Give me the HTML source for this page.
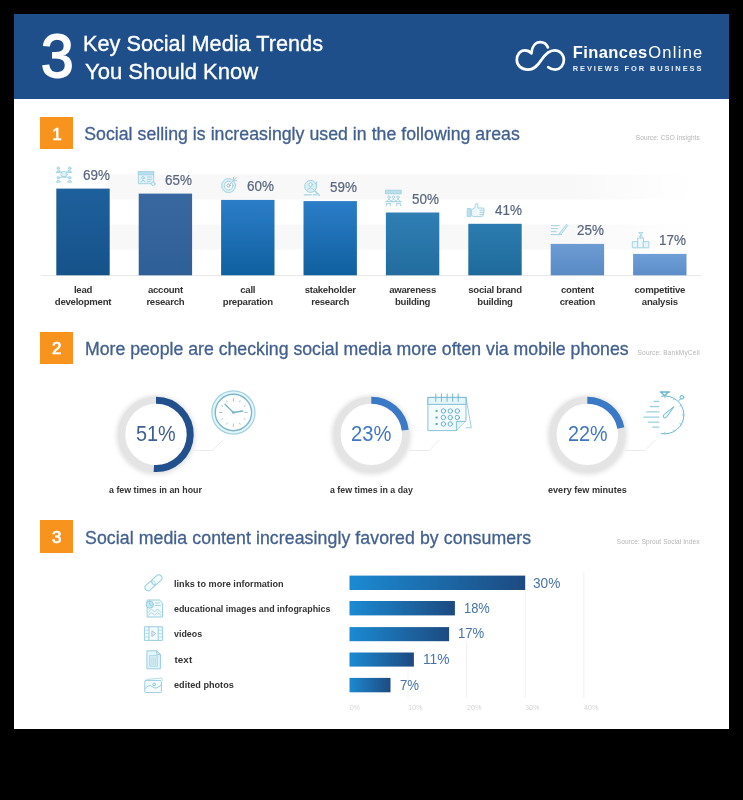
<!DOCTYPE html>
<html><head><meta charset="utf-8"><title>3 Key Social Media Trends</title>
<style>
html,body{margin:0;padding:0;background:#000;}
body{width:743px;height:800px;position:relative;overflow:hidden;font-family:"Liberation Sans",sans-serif;}
#page{position:absolute;left:14px;top:14px;width:715px;height:714.7px;background:#fff;}
#hdr{position:absolute;left:14px;top:14px;width:715px;height:84.6px;background:#1f4f8b;}
.ob{position:absolute;left:40.4px;width:32.8px;height:32px;background:#f8941d;}
.t{position:absolute;white-space:nowrap;line-height:1;transform-origin:0 50%;font-family:"Liberation Sans",sans-serif;}
#c{position:absolute;left:0;top:0;width:743px;height:800px;filter:blur(0.6px);}
</style></head><body>
<div id="page"></div>
<div id="hdr"></div>
<div class="ob" style="top:116.8px"></div>
<div class="ob" style="top:331.5px;height:32.4px"></div>
<div class="ob" style="top:520.2px;height:32.5px"></div>
<div id="c">
<svg width="743" height="800" viewBox="0 0 743 800" style="position:absolute;left:0;top:0">
<defs>
<linearGradient id="b0" x1="0" y1="0" x2="0" y2="1"><stop offset="0" stop-color="#1e609c"/><stop offset="1" stop-color="#16528a"/></linearGradient>
<linearGradient id="b1" x1="0" y1="0" x2="0" y2="1"><stop offset="0" stop-color="#38689f"/><stop offset="1" stop-color="#2f5f97"/></linearGradient>
<linearGradient id="b2" x1="0" y1="0" x2="0" y2="1"><stop offset="0" stop-color="#2b7dc8"/><stop offset="1" stop-color="#0f609f"/></linearGradient>
<linearGradient id="b3" x1="0" y1="0" x2="0" y2="1"><stop offset="0" stop-color="#2b7dc8"/><stop offset="1" stop-color="#0f609f"/></linearGradient>
<linearGradient id="b4" x1="0" y1="0" x2="0" y2="1"><stop offset="0" stop-color="#2f7fb4"/><stop offset="1" stop-color="#226c9e"/></linearGradient>
<linearGradient id="b5" x1="0" y1="0" x2="0" y2="1"><stop offset="0" stop-color="#2c7cb1"/><stop offset="1" stop-color="#1f6a9b"/></linearGradient>
<linearGradient id="b6" x1="0" y1="0" x2="0" y2="1"><stop offset="0" stop-color="#6c9cd2"/><stop offset="1" stop-color="#5a8ac4"/></linearGradient>
<linearGradient id="b7" x1="0" y1="0" x2="0" y2="1"><stop offset="0" stop-color="#6f9fd6"/><stop offset="1" stop-color="#5d8dc8"/></linearGradient>
<linearGradient id="hb" x1="0" y1="0" x2="1" y2="0"><stop offset="0" stop-color="#1b8ad2"/><stop offset="1" stop-color="#1d4a80"/></linearGradient>
<linearGradient id="band" x1="0" y1="0" x2="1" y2="0"><stop offset="0" stop-color="#ffffff"/><stop offset="0.02" stop-color="#f8f8f8"/><stop offset="0.78" stop-color="#f8f8f8"/><stop offset="1" stop-color="#ffffff"/></linearGradient>
<filter id="ib" x="-20%" y="-20%" width="140%" height="140%"><feGaussianBlur stdDeviation="0.45"/></filter>
<filter id="soft" x="-20%" y="-20%" width="140%" height="140%"><feGaussianBlur stdDeviation="2.2"/></filter>
</defs>
<rect x="100" y="174.5" width="595" height="25" fill="url(#band)"/>
<rect x="100" y="224.5" width="595" height="25" fill="url(#band)"/>
<rect x="41" y="275.0" width="660" height="1" fill="#e8e8e8"/>
<rect x="56.3" y="188.6" width="53.4" height="86.7" fill="url(#b0)"/>
<rect x="138.7" y="193.6" width="53.4" height="81.7" fill="url(#b1)"/>
<rect x="221.1" y="199.9" width="53.4" height="75.4" fill="url(#b2)"/>
<rect x="303.5" y="201.1" width="53.4" height="74.2" fill="url(#b3)"/>
<rect x="385.9" y="212.5" width="53.4" height="62.8" fill="url(#b4)"/>
<rect x="468.3" y="223.8" width="53.4" height="51.5" fill="url(#b5)"/>
<rect x="550.7" y="243.9" width="53.4" height="31.4" fill="url(#b6)"/>
<rect x="633.1" y="253.9" width="53.4" height="21.4" fill="url(#b7)"/>
<circle cx="156" cy="435.2" r="35.400000000000006" fill="none" stroke="#cfcfcf" stroke-width="8.5" opacity="0.6" filter="url(#soft)"/>
<circle cx="156" cy="434.4" r="34.2" fill="#fff" stroke="#e4e4e4" stroke-width="7"/>
<path d="M156 400.2 A34.2 34.2 0 1 1 153.85 468.53" fill="none" stroke="#21508d" stroke-width="7"/>
<circle cx="371.3" cy="435.2" r="35.400000000000006" fill="none" stroke="#cfcfcf" stroke-width="8.5" opacity="0.6" filter="url(#soft)"/>
<circle cx="371.3" cy="434.4" r="34.2" fill="#fff" stroke="#e4e4e4" stroke-width="7"/>
<path d="M371.3 400.2 A34.2 34.2 0 0 1 405.23 430.11" fill="none" stroke="#3a79c5" stroke-width="7"/>
<circle cx="587.3" cy="435.2" r="35.400000000000006" fill="none" stroke="#cfcfcf" stroke-width="8.5" opacity="0.6" filter="url(#soft)"/>
<circle cx="587.3" cy="434.4" r="34.2" fill="#fff" stroke="#e4e4e4" stroke-width="7"/>
<path d="M587.3 400.2 A34.2 34.2 0 0 1 620.89 427.99" fill="none" stroke="#3a79c5" stroke-width="7"/>
<path d="M193.6 450.5 H212.5 L223.2 439.8" fill="none" stroke="#ebebeb" stroke-width="1"/>
<path d="M409 450.5 H429.2 L439.4 439.8" fill="none" stroke="#ebebeb" stroke-width="1"/>
<path d="M625 450.5 H645 L655.5 439.8" fill="none" stroke="#ebebeb" stroke-width="1"/>
<rect x="407.6" y="667" width="1" height="31" fill="#f5f5f5"/>
<rect x="466.1" y="641.5" width="1" height="56.5" fill="#f1f1f1"/>
<rect x="524.7" y="590.5" width="1" height="107.5" fill="#f0f0f0"/>
<rect x="583.3" y="572" width="1" height="126" fill="#f1f1f1"/>
<rect x="349.5" y="575.6" width="175.7" height="14.4" fill="url(#hb)"/>
<rect x="349.5" y="601" width="105.4" height="14.4" fill="url(#hb)"/>
<rect x="349.5" y="627.1" width="99.6" height="14.1" fill="url(#hb)"/>
<rect x="349.5" y="652.5" width="64.4" height="14.1" fill="url(#hb)"/>
<rect x="349.5" y="677.9" width="41.0" height="14.4" fill="url(#hb)"/>
<!-- cloud logo -->
<path d="M547.9 47.4 C546.6 44.3 543.8 42.2 540.3 42.2 C535.6 42.2 531.9 46.2 531.4 53.3 C529.8 51.4 527.4 50.3 524.8 50.3 C520.2 50.3 516.8 54.7 516.8 60.1 C516.8 65.5 521.5 69.6 528 69.6 C534.5 69.6 538 65 541.3 60 C544.6 55 548.5 50.3 554.5 50.3 C559.8 50.3 563.9 54.7 563.9 60.1 C563.9 65.4 559.8 69.6 555.4 69.6 C552.6 69.6 550.2 68.8 548.3 67.2" fill="none" stroke="#fff" stroke-width="2.75" stroke-linecap="round" stroke-linejoin="round"/>
<g fill="none" stroke="#8fcadd" stroke-width="1" stroke-linecap="round" stroke-linejoin="round" opacity="0.8" filter="url(#ib)">
<!-- icon1: network of people -->
<g>
<circle cx="64" cy="174.5" r="3.2" fill="#d6eef6"/>
<path d="M62 176.2 q2 1.6 4 0 M61.5 172 L59.5 170.5 M66.5 172 L68.5 170.5 M61.5 177 L59.5 178.2 M66.5 177 L68.5 178.2"/>
<circle cx="58.3" cy="168.3" r="1.3" fill="#b9dfea"/><path d="M56.3 172.2 q2 -3.2 4 0 z" fill="#b9dfea"/>
<circle cx="69.7" cy="168.3" r="1.3" fill="#b9dfea"/><path d="M67.7 172.2 q2 -3.2 4 0 z" fill="#b9dfea"/>
<circle cx="58.3" cy="177.8" r="1.3" fill="#b9dfea"/><path d="M56.3 181.8 q2 -3.2 4 0 z" fill="#b9dfea"/>
<circle cx="69.7" cy="177.8" r="1.3" fill="#b9dfea"/><path d="M67.7 181.8 q2 -3.2 4 0 z" fill="#b9dfea"/>
</g>
<!-- icon2: browser profile -->
<g>
<rect x="138.7" y="171.7" width="15" height="12" fill="#dcf0f7"/>
<rect x="138.7" y="171.7" width="15" height="3" fill="#a9d9ea"/>
<circle cx="143" cy="177.8" r="1.3"/><path d="M140.8 182 q2.2 -3.6 4.4 0"/>
<path d="M147.5 177 h4 M147.5 179.3 h4 M147.5 181.6 h2.5"/>
<circle cx="153.3" cy="183.8" r="1.9" fill="#e0f3f9"/>
</g>
<!-- icon3: target -->
<g>
<circle cx="228.6" cy="185.6" r="7" fill="#d5eef6"/>
<circle cx="228.6" cy="185.6" r="4.3" fill="#fff"/>
<circle cx="228.6" cy="185.6" r="1.6" stroke="#7f9fb8"/>
<path d="M229.5 184.7 L236.3 177.8 M233.5 177.6 v3 h3"/>
</g>
<!-- icon4: magnifier person -->
<g>
<circle cx="310.6" cy="186.4" r="6" fill="#d2edf6"/>
<circle cx="310.6" cy="184.6" r="1.7" fill="#fff"/><path d="M307.4 190 q3.2 -4.6 6.4 0"/>
<path d="M315 191 L319.2 195.3" stroke-width="1.6"/>
<path d="M316.5 182 v5" />
<path d="M304.3 194.8 h7 M313.5 194.8 h3" stroke-width="1.3"/>
</g>
<!-- icon5: meeting -->
<g>
<rect x="385.8" y="190.2" width="15.4" height="3.6" fill="#a9d9ea"/>
<circle cx="389" cy="197.2" r="1.2"/><circle cx="393.5" cy="197.2" r="1.2"/><circle cx="398" cy="197.2" r="1.2"/>
<path d="M386.8 201 q2.2 -3.4 4.4 0 M391.3 201 q2.2 -3.4 4.4 0 M395.8 201 q2.2 -3.4 4.4 0"/>
<path d="M385.8 201.6 h15.4" stroke-width="1.3"/>
<path d="M386.6 203.4 v2.4 M390.3 203.4 v2.4 M396.7 203.4 v2.4 M400.4 203.4 v2.4 M386.6 203.6 h3.7 M396.7 203.6 h3.7"/>
</g>
<!-- icon6: thumbs up -->
<g>
<rect x="467.6" y="208.6" width="3.4" height="8" fill="#a9d9ea"/>
<path d="M471.8 209.5 L474.5 208 L476 203.6 q1.8 -0.6 2 1.6 L477.6 208 H483 q1.4 0.2 1.2 1.6 L483.4 215 q-0.4 1.6 -2 1.6 H474 L471.8 215.6 Z" fill="#eaf7fb"/>
<path d="M480 210.2 h4 M480 212.4 h3.8 M480 214.6 h3.4"/>
</g>
<!-- icon7: write -->
<g>
<path d="M551.2 225.6 h8 M551.2 228.6 h6.5 M551.2 231.6 h5 M551.2 234.6 h10.5"/>
<path d="M566.4 224.6 L560 232.6 L558.8 235 L561.4 233.8 L567.6 225.8 Z" fill="#d5eef6"/>
</g>
<!-- icon8: podium -->
<g>
<rect x="632.7" y="241.6" width="5.4" height="6.2" fill="#e3f4fa"/>
<rect x="638.1" y="238" width="5.4" height="9.8" fill="#eef9fc"/>
<rect x="643.5" y="241.6" width="5.4" height="6.2" fill="#e3f4fa"/>
<path d="M639 232.6 h3.6 M639.2 232.8 L642.4 236.8 M642.4 232.8 L639.2 236.8 M640.8 236 v2"/>
</g>
</g>
<!-- clock -->
<g fill="none" stroke-linecap="round">
<circle cx="233.4" cy="412.5" r="21.6" fill="#e2f6fb" stroke="#a2d2df" stroke-width="1.2"/>
<circle cx="233.4" cy="412.5" r="18.2" fill="#fff" stroke="#80b6c8" stroke-width="1.4"/>
<g stroke="#9cc5d3" stroke-width="1">
<path d="M233.4 398.6 v2.4 M233.4 424 v2.4 M219.5 412.5 h2.4 M244.9 412.5 h2.4"/>
<path d="M240.1 400.9 l-0.5 0.9 M245 405.8 l-0.9 0.5 M245 419.2 l-0.9 -0.5 M240.1 424.1 l-0.5 -0.9 M226.7 424.1 l0.5 -0.9 M221.8 419.2 l0.9 -0.5 M221.8 405.8 l0.9 0.5 M226.7 400.9 l0.5 0.9"/>
</g>
<path d="M233.4 412.5 L225 404.2" stroke="#76b3c9" stroke-width="1.2"/>
<path d="M233.4 412.5 L242.6 411" stroke="#76b3c9" stroke-width="1.4"/>
<circle cx="233.4" cy="412.5" r="1.3" fill="#76b3c9" stroke="none"/>
</g>
<!-- calendar -->
<g fill="none" stroke="#74b7cd" stroke-width="0.85" stroke-linejoin="round" stroke-linecap="round">
<path d="M466 397.4 L471.3 427.8 H466" stroke="#8cc8db"/>
<path d="M428.3 397.4 H466 V420.6 L456.4 430.6 H428.3 Z" fill="#f3fbfd"/>
<path d="M428.3 397.4 H466 V404.4 H428.3 Z" fill="#e4f5fa"/>
<path d="M456.4 430.6 V421.4 H465.4" fill="#dff3f9"/>
<path d="M435.8 394 v7.4 M441.4 394 v7.4 M447.1 394 v7.4 M452.7 394 v7.4 M458.2 394 v7.4" stroke-width="1"/>
<g stroke="#5fa9c9" stroke-width="0.9">
<circle cx="443.4" cy="411" r="2.2"/><circle cx="450.3" cy="411" r="2.2"/><circle cx="457.3" cy="411" r="2.2"/>
<circle cx="443.4" cy="417.5" r="2.2"/><circle cx="450.3" cy="417.5" r="2.2"/><circle cx="457.3" cy="417.5" r="2.2"/>
<circle cx="443.4" cy="424" r="2.2"/><circle cx="450.3" cy="424" r="2.2"/>
</g>
<rect x="435.6" y="410" width="2" height="2" fill="#5fbf9f" stroke="none"/>
<rect x="435.6" y="416.5" width="2" height="2" fill="#5f9fcf" stroke="none"/>
<rect x="435.6" y="423" width="2" height="2" fill="#5f9fcf" stroke="none"/>
</g>
<!-- stopwatch -->
<g fill="none" stroke="#6ab6ce" stroke-width="1" stroke-linecap="round" stroke-linejoin="round">
<path d="M661.5 396.2 A19 19 0 1 1 661.5 433.6"/>
<path d="M660.2 392 h9.4 M661 392.2 l3.6 3.6 l3.6 -3.6" stroke-width="1.3"/>
<circle cx="681.9" cy="397.3" r="1.9" fill="#dff3f9"/>
<path d="M680.6 398.7 L678.9 400.6"/>
<path d="M654 401.4 h4.8 M650.3 406.6 h8.5 M646.7 411.9 h12.1 M643.9 417.1 h14.9 M648.3 422.1 h10.5 M652.8 427.2 h6" stroke="#9bcfdf" stroke-width="1.2"/>
<path d="M673.8 407 L666.5 417.2 q-1.8 1.6 -3 0.2 q-1 -1.4 0.6 -3 Z" fill="#eaf7fb"/>
<g stroke-width="0.9" stroke="#86c4d8">
<path d="M664.9 395.9 L664.9 397.6 M674.4 398.4 L673.5 399.9 M681.3 405.4 L679.8 406.2 M683.9 414.9 L682.2 414.9 M681.3 424.4 L679.8 423.5 M674.4 431.4 L673.5 429.9 M664.9 433.9 L664.9 432.2"/>
</g>
</g>
<!-- section 3 icons -->
<g fill="none" stroke="#86c5da" stroke-width="1" stroke-linecap="round" stroke-linejoin="round" opacity="0.85">
<!-- link -->
<g transform="rotate(-42 153.5 582.8)">
<rect x="143.2" y="579.6" width="11.6" height="6.4" rx="3.2" fill="#e4f5fa" fill-opacity="0.6"/>
<rect x="152.2" y="579.6" width="11.6" height="6.4" rx="3.2" fill="#e4f5fa" fill-opacity="0.5"/>
</g>
<!-- image doc -->
<g>
<path d="M147.5 600 H159.5 L162.6 603 V617 H147.5 Z" fill="#eef9fc"/>
<circle cx="149.8" cy="604.6" r="3.6" fill="#bfe5f1"/>
<path d="M149.8 604.6 V601 M149.8 604.6 L152.8 606.4"/>
<path d="M155.5 603 h4 M155.5 605.5 h5 M148.5 612 l3 -3 l3 3 l3 -3 l3.5 3.5 M148.5 615 l3 -2.4 l3 2.4 l3 -2.4 l3.5 2.6" stroke="#9dd1e1"/>
</g>
<!-- video -->
<g>
<rect x="144.8" y="626.8" width="17.6" height="13.6" fill="#f3fbfd"/>
<path d="M149 626.8 v13.6 M158.2 626.8 v13.6"/>
<path d="M144.8 630.2 h4.2 M144.8 633.6 h4.2 M144.8 637 h4.2 M158.2 630.2 h4.2 M158.2 633.6 h4.2 M158.2 637 h4.2" stroke="#a6d8e6"/>
<path d="M152.2 631 L155.8 633.6 L152.2 636.2 Z" stroke="#9fb8c6" fill="#dfeef4"/>
</g>
<!-- text doc -->
<g>
<path d="M147.3 650.8 H156.8 L160.4 654.4 V668.8 H147.3 Z" fill="#dff3f9"/>
<path d="M156.8 650.8 V654.4 H160.4"/>
<rect x="150" y="655.6" width="7.4" height="10.6" fill="#cfeaf3" stroke="#a1d3e3"/>
<path d="M151.8 658 v6.4 M153.7 658 v6.4 M155.6 658 v6.4" stroke="#a1d3e3" stroke-width="0.8"/>
</g>
<!-- photos -->
<g>
<path d="M147 679.4 L161.8 678 L162.4 680.6" stroke="#a6d8e6"/>
<rect x="144.8" y="680.4" width="16.6" height="12.2" rx="1.2" fill="#f3fbfd"/>
<path d="M145 688.6 q4 -5 8 -1.6 q3.4 3 8.4 -2.4"/>
<circle cx="154.2" cy="684.4" r="1.4" fill="#bfe5f1"/>
</g>
</g>

</svg>
<span class="t" style="left:41.40px;top:26.00px;font-size:60.5px;font-weight:400;color:#fff;letter-spacing:0.000px;-webkit-text-stroke:1.8px #fff;transform:scaleX(0.97);">3</span>
<span class="t" style="left:83.30px;top:33.00px;font-size:22.5px;font-weight:400;color:#fff;transform:scaleX(0.9643);-webkit-text-stroke:0.35px #fff;">Key Social Media Trends</span>
<span class="t" style="left:85.30px;top:61.00px;font-size:22.5px;font-weight:400;color:#fff;transform:scaleX(0.9800);-webkit-text-stroke:0.35px #fff;">You Should Know</span>
<span class="t" style="left:572.80px;top:44.00px;font-size:16.5px;font-weight:700;color:#fff;letter-spacing:0.410px;">Finances</span>
<span class="t" style="left:648.20px;top:44.00px;font-size:16.5px;font-weight:400;color:#fff;letter-spacing:1.279px;">Online</span>
<span class="t" style="left:572.80px;top:65.00px;font-size:7.5px;font-weight:700;color:#e8eef6;letter-spacing:1.877px;">REVIEWS FOR BUSINESS</span>
<span class="t" style="left:52.30px;top:126.00px;font-size:17px;font-weight:400;color:#fff;letter-spacing:0.000px;-webkit-text-stroke:0.7px #fff;">1</span>
<span class="t" style="left:52.00px;top:340.00px;font-size:17px;font-weight:400;color:#fff;letter-spacing:0.000px;-webkit-text-stroke:0.7px #fff;">2</span>
<span class="t" style="left:52.00px;top:529.00px;font-size:17px;font-weight:400;color:#fff;letter-spacing:0.000px;-webkit-text-stroke:0.7px #fff;">3</span>
<span class="t" style="left:84.20px;top:126.00px;font-size:17.7px;font-weight:400;color:#42608f;letter-spacing:0.035px;-webkit-text-stroke:0.3px #42608f;">Social selling is increasingly used in the following areas</span>
<span class="t" style="left:85.00px;top:341.00px;font-size:17.7px;font-weight:400;color:#42608f;transform:scaleX(0.9998);-webkit-text-stroke:0.3px #42608f;">More people are checking social media more often via mobile phones</span>
<span class="t" style="left:85.00px;top:530.00px;font-size:17.7px;font-weight:400;color:#42608f;letter-spacing:0.086px;-webkit-text-stroke:0.3px #42608f;">Social media content increasingly favored by consumers</span>
<span class="t" style="left:635.80px;top:135.00px;font-size:6.5px;font-weight:400;color:#b4b4b4;letter-spacing:0.074px;">Source: CSO Insights</span>
<span class="t" style="left:637.60px;top:350.00px;font-size:6.5px;font-weight:400;color:#b4b4b4;letter-spacing:0.183px;">Source: BankMyCell</span>
<span class="t" style="left:616.80px;top:539.00px;font-size:6.5px;font-weight:400;color:#b4b4b4;letter-spacing:0.078px;">Source: Sprout Social Index</span>
<span class="t" style="left:82.60px;top:168.00px;font-size:14px;font-weight:400;color:#58657e;transform:scaleX(0.9596);-webkit-text-stroke:0.2px #58657e;">69%</span>
<span class="t" style="left:73.90px;top:285.00px;font-size:9.6px;font-weight:700;color:#333333;letter-spacing:-0.250px;">lead</span>
<span class="t" style="left:54.78px;top:297.00px;font-size:9.6px;font-weight:700;color:#333333;letter-spacing:-0.250px;">development</span>
<span class="t" style="left:165.00px;top:173.00px;font-size:14px;font-weight:400;color:#58657e;transform:scaleX(0.9596);-webkit-text-stroke:0.2px #58657e;">65%</span>
<span class="t" style="left:147.88px;top:285.00px;font-size:9.6px;font-weight:700;color:#333333;letter-spacing:-0.250px;">account</span>
<span class="t" style="left:146.39px;top:297.00px;font-size:9.6px;font-weight:700;color:#333333;letter-spacing:-0.250px;">research</span>
<span class="t" style="left:247.40px;top:179.00px;font-size:14px;font-weight:400;color:#58657e;transform:scaleX(0.9596);-webkit-text-stroke:0.2px #58657e;">60%</span>
<span class="t" style="left:240.29px;top:285.00px;font-size:9.6px;font-weight:700;color:#333333;letter-spacing:-0.250px;">call</span>
<span class="t" style="left:222.78px;top:297.00px;font-size:9.6px;font-weight:700;color:#333333;letter-spacing:-0.250px;">preparation</span>
<span class="t" style="left:329.80px;top:180.00px;font-size:14px;font-weight:400;color:#58657e;transform:scaleX(0.9596);-webkit-text-stroke:0.2px #58657e;">59%</span>
<span class="t" style="left:304.65px;top:285.00px;font-size:9.6px;font-weight:700;color:#333333;letter-spacing:-0.250px;">stakeholder</span>
<span class="t" style="left:311.19px;top:297.00px;font-size:9.6px;font-weight:700;color:#333333;letter-spacing:-0.250px;">research</span>
<span class="t" style="left:412.20px;top:192.00px;font-size:14px;font-weight:400;color:#58657e;transform:scaleX(0.9596);-webkit-text-stroke:0.2px #58657e;">50%</span>
<span class="t" style="left:389.19px;top:285.00px;font-size:9.6px;font-weight:700;color:#333333;letter-spacing:-0.250px;">awareness</span>
<span class="t" style="left:394.94px;top:297.00px;font-size:9.6px;font-weight:700;color:#333333;letter-spacing:-0.250px;">building</span>
<span class="t" style="left:494.60px;top:203.00px;font-size:14px;font-weight:400;color:#58657e;transform:scaleX(0.9596);-webkit-text-stroke:0.2px #58657e;">41%</span>
<span class="t" style="left:468.24px;top:285.00px;font-size:9.6px;font-weight:700;color:#333333;letter-spacing:-0.250px;">social brand</span>
<span class="t" style="left:477.34px;top:297.00px;font-size:9.6px;font-weight:700;color:#333333;letter-spacing:-0.250px;">building</span>
<span class="t" style="left:577.00px;top:223.00px;font-size:14px;font-weight:400;color:#58657e;transform:scaleX(0.9596);-webkit-text-stroke:0.2px #58657e;">25%</span>
<span class="t" style="left:560.95px;top:285.00px;font-size:9.6px;font-weight:700;color:#333333;letter-spacing:-0.250px;">content</span>
<span class="t" style="left:559.74px;top:297.00px;font-size:9.6px;font-weight:700;color:#333333;letter-spacing:-0.250px;">creation</span>
<span class="t" style="left:659.40px;top:233.00px;font-size:14px;font-weight:400;color:#58657e;transform:scaleX(0.9596);-webkit-text-stroke:0.2px #58657e;">17%</span>
<span class="t" style="left:634.51px;top:285.00px;font-size:9.6px;font-weight:700;color:#333333;letter-spacing:-0.250px;">competitive</span>
<span class="t" style="left:641.86px;top:297.00px;font-size:9.6px;font-weight:700;color:#333333;letter-spacing:-0.250px;">analysis</span>
<span class="t" style="left:135.80px;top:424.00px;font-size:21.5px;font-weight:400;color:#3f5f93;transform:scaleX(0.9246);">51%</span>
<span class="t" style="left:351.10px;top:424.00px;font-size:21.5px;font-weight:400;color:#3f78c2;transform:scaleX(0.9385);">23%</span>
<span class="t" style="left:567.90px;top:424.00px;font-size:21.5px;font-weight:400;color:#3f78c2;transform:scaleX(0.9199);">22%</span>
<span class="t" style="left:108.80px;top:485.00px;font-size:9.6px;font-weight:700;color:#333333;transform:scaleX(0.9219);">a few times in an hour</span>
<span class="t" style="left:329.60px;top:485.00px;font-size:9.6px;font-weight:700;color:#333333;transform:scaleX(0.9198);">a few times in a day</span>
<span class="t" style="left:548.30px;top:485.00px;font-size:9.6px;font-weight:700;color:#333333;transform:scaleX(0.9473);">every few minutes</span>
<span class="t" style="left:174.40px;top:579.00px;font-size:9.9px;font-weight:700;color:#333333;transform:scaleX(0.9248);">links to more information</span>
<span class="t" style="left:533.00px;top:576.00px;font-size:14.5px;font-weight:400;color:#4673a9;transform:scaleX(0.9404);">30%</span>
<span class="t" style="left:174.40px;top:604.00px;font-size:9.9px;font-weight:700;color:#333333;transform:scaleX(0.8991);">educational images and infographics</span>
<span class="t" style="left:463.50px;top:601.00px;font-size:14.5px;font-weight:400;color:#4673a9;transform:scaleX(0.8887);">18%</span>
<span class="t" style="left:174.40px;top:629.00px;font-size:9.9px;font-weight:700;color:#333333;transform:scaleX(0.8979);">videos</span>
<span class="t" style="left:458.00px;top:626.00px;font-size:14.5px;font-weight:400;color:#4673a9;transform:scaleX(0.9025);">17%</span>
<span class="t" style="left:174.40px;top:655.00px;font-size:9.9px;font-weight:700;color:#333333;letter-spacing:0.079px;">text</span>
<span class="t" style="left:422.50px;top:652.00px;font-size:14.5px;font-weight:400;color:#4673a9;transform:scaleX(0.9480);">11%</span>
<span class="t" style="left:174.40px;top:680.00px;font-size:9.9px;font-weight:700;color:#333333;transform:scaleX(0.9238);">edited photos</span>
<span class="t" style="left:399.50px;top:678.00px;font-size:14.5px;font-weight:400;color:#4673a9;transform:scaleX(0.9109);">7%</span>
<span class="t" style="left:349.50px;top:704.00px;font-size:7.5px;font-weight:400;color:#d4d4d4;transform:scaleX(0.9037);">0%</span>
<span class="t" style="left:408.07px;top:704.00px;font-size:7.5px;font-weight:400;color:#d4d4d4;transform:scaleX(0.9723);">10%</span>
<span class="t" style="left:466.64px;top:704.00px;font-size:7.5px;font-weight:400;color:#d4d4d4;transform:scaleX(0.9723);">20%</span>
<span class="t" style="left:525.21px;top:704.00px;font-size:7.5px;font-weight:400;color:#d4d4d4;transform:scaleX(0.9723);">30%</span>
<span class="t" style="left:583.78px;top:704.00px;font-size:7.5px;font-weight:400;color:#d4d4d4;transform:scaleX(0.9723);">40%</span>
</div>
</body></html>
